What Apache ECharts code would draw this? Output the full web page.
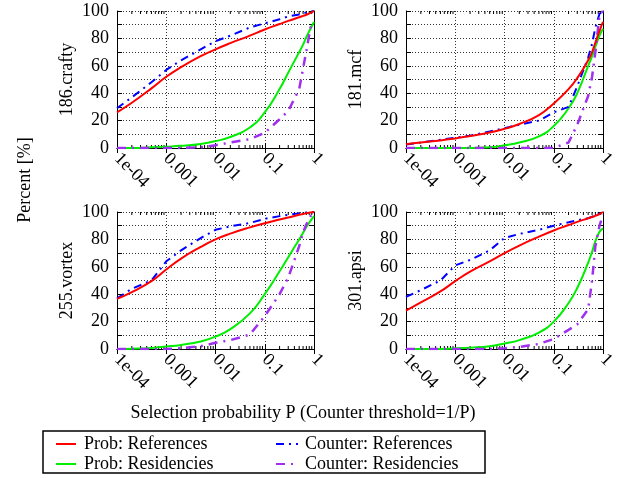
<!DOCTYPE html>
<html>
<head>
<meta charset="utf-8">
<script src="https://cdn.jsdelivr.net/npm/echarts@6/dist/echarts.min.js"></script>
<style>html,body{margin:0;padding:0;background:#fff}#c{width:624px;height:478px}</style>
</head>
<body>
<div id="c"></div>
<script>
// Selection probability P (x values, shared)
const P = [1e-4, 2e-4, 5e-4, 1e-3, 2e-3, 5e-3, 0.01, 0.02, 0.05, 0.1, 0.2, 0.3, 0.5, 0.6, 0.7, 0.85, 1];

const benchmarks = ['186.crafty', '181.mcf', '255.vortex', '301.apsi'];
const seriesNames = ['Prob: References', 'Prob: Residencies', 'Counter: References', 'Counter: Residencies'];

const probRefCrafty    = [26, 33, 43.5, 52, 59, 67, 72, 76.5, 82, 86.5, 90.5, 92.8, 95.4, 96.4, 97.3, 98.6, 100];
const probResCrafty    = [0, 0, 0.5, 1, 1.6, 3, 5, 8, 15, 26, 43, 55, 70, 75.5, 81, 87, 92];
const counterRefCrafty = [29, 37, 48, 57, 64, 72, 78, 82, 88, 91, 94, 96, 97.5, 98.3, 99, 99.5, 100];
const counterResCrafty = [0, 0, 0, 0, 0, 0.5, 2, 4, 6.5, 11, 21, 27, 43, 58, 71, 88, 92];

const probRefMcf    = [2.7, 4, 5.5, 7, 8.8, 11.3, 14, 17.5, 24, 32.5, 43, 51, 64, 70, 77, 85.5, 92];
const probResMcf    = [0, 0, 0, 0, 0, 0.5, 2, 4, 8.5, 16, 29, 40, 60, 67, 74, 82, 87];
const counterRefMcf = [2.5, 4, 6, 7.5, 9, 12, 14.5, 17, 20, 26, 30, 45, 66, 76, 88, 98, 100];
const counterResMcf = [0, 0, 0, 0, 0, 0, 0, 0, 0, 0, 4, 17, 38, 52, 70, 97, 100];

const probRefVortex    = [36.6, 41.5, 49.5, 58, 66, 74.5, 80, 84.2, 88.8, 91.8, 94.5, 96, 98, 98.6, 99.1, 99.6, 100];
const probResVortex    = [0, 0.2, 0.8, 1.8, 3, 5.5, 9, 14.5, 26, 40, 56.7, 67, 80, 84.8, 89, 93.5, 97];
const counterRefVortex = [37, 44, 50, 64, 72, 81, 87, 89.5, 92, 95, 97, 98, 99, 99.3, 99.6, 99.8, 100];
const counterResVortex = [0, 0, 0, 0, 0.5, 2, 4.5, 6.5, 10.5, 24, 40, 52, 75, 85, 91, 97, 100];

const probRefApsi    = [28, 34, 42, 49.5, 56.5, 64, 70, 75.5, 82, 86.5, 90.5, 92.8, 95.4, 96.3, 97.2, 98.5, 100];
const probResApsi    = [0, 0, 0, 0.5, 1, 2, 4, 6.5, 12, 20, 33.6, 44.5, 63, 71, 78.6, 85.5, 88];
const counterRefApsi = [38, 43, 50, 61, 65, 72, 81, 84, 87, 90, 92.5, 94, 95.5, 96.5, 97.5, 99, 100];
const counterResApsi = [0, 0, 0, 0, 0, 0, 0.5, 1.5, 3.7, 7.3, 14, 18, 29, 50, 75, 90, 98];

const xTickLabels = {'-4': '1e-04', '-3': '0.001', '-2': '0.01', '-1': '0.1', '0': '1'};
const minorTicks = [];
for (let e = -4; e < 0; e++) for (let m = 2; m <= 9; m++) minorTicks.push(m * Math.pow(10, e));

const plotData = [
  [probRefCrafty, probResCrafty, counterRefCrafty, counterResCrafty],
  [probRefMcf, probResMcf, counterRefMcf, counterResMcf],
  [probRefVortex, probResVortex, counterRefVortex, counterResVortex],
  [probRefApsi, probResApsi, counterRefApsi, counterResApsi]
];

const FONT = 'Liberation Serif, Times New Roman, serif';
const styles = [
  {color: '#ff0000', width: 2, type: 'solid', smooth: 0.5},
  {color: '#00ee00', width: 2, type: 'solid', smooth: 0.5},
  {color: '#0000ff', width: 2, type: [8, 5, 2, 5], smooth: false},
  {color: '#a030f0', width: 2.5, type: [9, 6, 2, 6], smooth: false}
];

const gridPos = [
  {left: 117, top: 11},
  {left: 406, top: 11},
  {left: 117, top: 212},
  {left: 406, top: 212}
];

const grids = [], xAxes = [], yAxes = [], series = [];
gridPos.forEach((g, i) => {
  grids.push({left: g.left, top: g.top, width: 197, height: 137, containLabel: false});
  const axLine = {show: true, lineStyle: {color: '#000', width: 1}};
  const dotted = {show: true, lineStyle: {color: '#333', width: 1, type: [1, 2]}};
  xAxes.push({
    type: 'log', logBase: 10, min: 1e-4, max: 1, interval: 1, gridIndex: i, position: 'bottom',
    axisLine: axLine, axisTick: {show: true, inside: true, length: 5, lineStyle: {color: '#000'}},
    minorTick: {show: false}, minorSplitLine: {show: false}, splitLine: dotted,
    axisLabel: {
      show: true, rotate: -45, margin: 8, fontSize: 18, fontFamily: FONT, color: '#000',
      showMinLabel: true, showMaxLabel: true, hideOverlap: false,
      formatter: v => xTickLabels[String(Math.round(Math.log10(v)))] || ''
    }
  });
  xAxes.push({
    type: 'log', logBase: 10, min: 1e-4, max: 1, interval: 1, gridIndex: i, position: 'top',
    axisLine: axLine, axisTick: {show: true, inside: true, length: 5, lineStyle: {color: '#000'}},
    minorTick: {show: false}, axisLabel: {show: false}, splitLine: {show: false}
  });
  yAxes.push({
    type: 'value', min: 0, max: 100, interval: 10, gridIndex: i, position: 'left',
    name: benchmarks[i], nameLocation: 'middle', nameRotate: 90, nameGap: 41,
    nameTextStyle: {fontSize: 18, fontFamily: FONT, color: '#000'},
    axisLine: axLine, axisTick: {show: true, inside: true, length: 5, lineStyle: {color: '#000'}},
    splitLine: dotted,
    axisLabel: {fontSize: 18, fontFamily: FONT, color: '#000', margin: 8,
      formatter: v => (v % 20 === 0 ? String(v) : '')}
  });
  yAxes.push({
    type: 'value', min: 0, max: 100, interval: 10, gridIndex: i, position: 'right',
    axisLine: axLine, axisTick: {show: true, inside: true, length: 5, lineStyle: {color: '#000'}},
    axisLabel: {show: false}, splitLine: {show: false}
  });
  // minor log ticks on bottom and top edges
  series.push({
    type: 'custom', xAxisIndex: 2 * i, yAxisIndex: 2 * i, silent: true, clip: false, z: 1,
    data: minorTicks.map(v => [v]),
    renderItem: (params, api) => {
      const b = api.coord([api.value(0), 0]);
      const t = api.coord([api.value(0), 100]);
      return {type: 'group', children: [
        {type: 'line', shape: {x1: b[0], y1: b[1], x2: b[0], y2: b[1] - 3}, style: {stroke: '#000', lineWidth: 1}},
        {type: 'line', shape: {x1: t[0], y1: t[1], x2: t[0], y2: t[1] + 3}, style: {stroke: '#000', lineWidth: 1}}
      ]};
    }
  });
  plotData[i].forEach((vals, k) => {
    const s = styles[k];
    series.push({
      name: seriesNames[k], type: 'line', xAxisIndex: 2 * i, yAxisIndex: 2 * i,
      data: P.map((p, j) => [p, vals[j]]), symbol: 'none', showSymbol: false,
      smooth: s.smooth, z: 3 + (k === 0 ? 1 : 0),
      lineStyle: {color: s.color, width: s.width, type: s.type},
      itemStyle: {color: s.color}, animation: false
    });
  });
});

const legendPos = [[55, 435], [55, 455], [275, 435], [275, 455]];
const legends = seriesNames.map((n, k) => ({
  data: [n], left: legendPos[k][0], top: legendPos[k][1], padding: 0,
  itemWidth: k < 2 ? 20 : 22, itemHeight: 12, selectedMode: false,
  itemStyle: {opacity: 0},
  textStyle: {fontSize: 18, fontFamily: FONT, color: '#000', padding: [0, 0, 0, k < 2 ? 3 : 2]}
}));

const chart = echarts.init(document.getElementById('c'), null, {renderer: 'canvas'});
chart.setOption({
  animation: false,
  backgroundColor: '#fff',
  textStyle: {fontFamily: FONT},
  grid: grids, xAxis: xAxes, yAxis: yAxes, series: series,
  legend: legends,
  graphic: [
    {type: 'rect', shape: {x: 43, y: 431, width: 442, height: 42}, style: {fill: 'none', stroke: '#000', lineWidth: 1.5}, z: 0},
    {type: 'text', x: 303, y: 413, style: {text: 'Selection probability P (Counter threshold=1/P)', font: '18px ' + FONT, fill: '#000', textAlign: 'center', textVerticalAlign: 'middle'}},
    {type: 'text', x: 25, y: 180, rotation: Math.PI / 2, style: {text: 'Percent [%]', font: '18px ' + FONT, fill: '#000', textAlign: 'center', textVerticalAlign: 'middle'}}
  ]
});
</script>
</body>
</html>
